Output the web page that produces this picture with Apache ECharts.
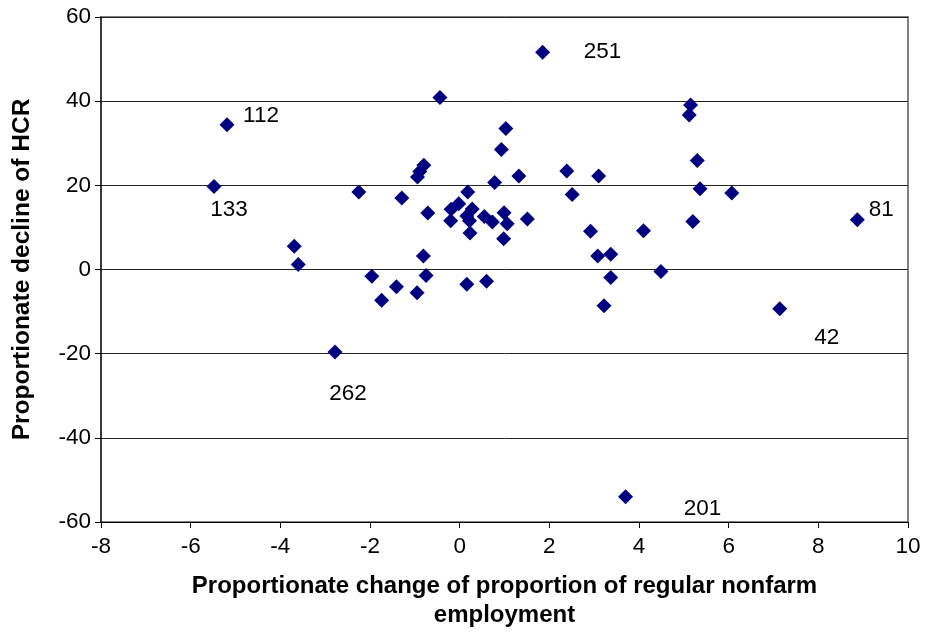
<!DOCTYPE html>
<html>
<head>
<meta charset="utf-8">
<script src="https://cdn.jsdelivr.net/npm/echarts@6/dist/echarts.min.js"></script>
<style>
  html, body { margin: 0; padding: 0; background: #fff; }
  #chart { width: 925px; height: 632px; }
</style>
</head>
<body>
<div id="chart"></div>
<script>
// Proportionate change of regular nonfarm employment share (x) vs proportionate decline of HCR (y)
const xValues = [
  -5.19, -5.48, 1.85, -2.78, 3.70, 7.14, 8.87, -0.44, -0.80, -0.89,
  -0.94, -2.25, -1.29, 0.18, -0.71, 5.15, 5.12, 1.03, 0.93, 5.30,
  2.39, 3.10, 1.32, 0.78, 2.51, 5.36, 6.07, -0.19, -0.02, -0.20,
  0.28, 0.16, 0.22, 0.23, 0.55, 0.73, 0.99, 1.06, 0.98, 1.51,
  -0.81, -0.75, 0.16, 0.60, 2.92, 3.08, 3.37, 3.37, 3.22, 4.10,
  4.49, 5.20, -3.69, -3.60, -1.96, -1.41, -1.74, -0.95
];
const yValues = [
  34.4, 19.7, 51.6, -19.6, -54.0, -9.3, 11.8, 40.9, 24.8, 23.3,
  22.0, 18.4, 17.0, 18.4, 13.4, 39.1, 36.7, 33.5, 28.5, 25.9,
  23.4, 22.2, 22.2, 20.7, 17.8, 19.2, 18.2, 14.3, 15.6, 11.6,
  14.4, 12.7, 11.6, 8.7, 12.6, 11.3, 13.5, 10.9, 7.3, 12.0,
  3.2, -1.4, -3.5, -2.8, 9.1, 3.2, 3.6, -1.9, -8.6, 9.2,
  -0.5, 11.4, 5.5, 1.2, -1.6, -4.1, -7.3, -5.5
];
// identifiers shown beside selected observations ('' = no label)
const pointIds = [
  '112', '133', '251', '262', '201', '42', '81', '', '', '',
  '', '', '', '', '', '', '', '', '', '',
  '', '', '', '', '', '', '', '', '', '',
  '', '', '', '', '', '', '', '', '', '',
  '', '', '', '', '', '', '', '', '', '',
  '', '', '', '', '', '', '', ''
];
const xTitle = 'Proportionate change of proportion of regular nonfarm\nemployment';
const yTitle = 'Proportionate decline of HCR';

const SYMBOL_SIZE = 15;
// where each identifier's centre sits relative to its marker centre (pixels)
const idLabelOffsets = {
  '112': [34, -9], '133': [15, 23], '251': [60, -1], '262': [13, 42],
  '201': [77, 12], '42': [47, 29], '81': [24, -10]
};

const data = xValues.map((x, i) => {
  const item = { value: [x, yValues[i]] };
  const id = pointIds[i];
  if (id) {
    const off = idLabelOffsets[id] || [20, 0];
    item.label = {
      show: true,
      formatter: id,
      // position is measured from the symbol's top-left corner
      position: [SYMBOL_SIZE / 2 + off[0], SYMBOL_SIZE / 2 + off[1]],
      align: 'center',
      verticalAlign: 'middle'
    };
  }
  return item;
});

const FONT = '"Liberation Sans", Arial, sans-serif';
const chart = echarts.init(document.getElementById('chart'), null, { renderer: 'canvas' });
chart.setOption({
  animation: false,
  backgroundColor: '#fff',
  grid: {
    left: 101, right: 17, top: 17, bottom: 110,
    outerBoundsMode: 'none',
    show: true, borderColor: '#808080', borderWidth: 2, backgroundColor: '#fff'
  },
  xAxis: {
    type: 'value', min: -8, max: 10, interval: 2,
    name: xTitle, nameLocation: 'middle', nameGap: 50,
    nameTextStyle: { fontFamily: FONT, fontWeight: 'bold', fontSize: 24, color: '#000', lineHeight: 29 },
    axisLine: { show: true, onZero: false, lineStyle: { color: '#000', width: 1 } },
    axisTick: { show: true, inside: false, length: 6, lineStyle: { color: '#000' } },
    axisLabel: { fontFamily: FONT, fontSize: 22.5, color: '#000', margin: 13 },
    splitLine: { show: false }
  },
  yAxis: {
    type: 'value', min: -60, max: 60, interval: 20,
    name: yTitle, nameLocation: 'middle', nameGap: 66,
    nameTextStyle: { fontFamily: FONT, fontWeight: 'bold', fontSize: 24.5, color: '#000' },
    axisLine: { show: true, onZero: false, lineStyle: { color: '#222', width: 1.5 } },
    axisTick: { show: true, inside: false, length: 6, lineStyle: { color: '#000' } },
    axisLabel: { fontFamily: FONT, fontSize: 22.5, color: '#000', margin: 10 },
    splitLine: { show: true, lineStyle: { color: '#222', width: 1 } }
  },
  series: [{
    type: 'scatter',
    symbol: 'diamond',
    symbolSize: SYMBOL_SIZE,
    itemStyle: { color: '#000080', opacity: 1 },
    label: { show: false, fontFamily: FONT, fontSize: 22.5, color: '#000' },
    labelLayout: { hideOverlap: false },
    data: data
  }]
});
</script>
</body>
</html>
